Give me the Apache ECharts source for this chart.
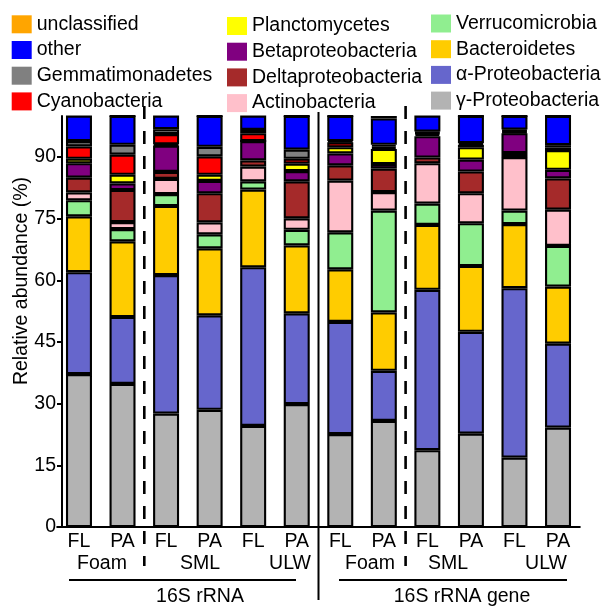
<!DOCTYPE html>
<html lang="en">
<head>
<meta charset="UTF-8">
<title>Relative abundance</title>
<script src="https://cdn.jsdelivr.net/npm/echarts@6/dist/echarts.min.js"></script>
<style>html,body{margin:0;padding:0;background:#fff}</style>
</head>
<body>
<div id="main" style="width:604px;height:606px"></div>
<script>
// sample order: 16S rRNA (Foam, SML, ULW) then 16S rRNA gene (Foam, SML, ULW)
var fractions = ['FL', 'PA', 'FL', 'PA', 'FL', 'PA', 'FL', 'PA', 'FL', 'PA', 'FL', 'PA'];
var yTicks = [0, 15, 30, 45, 60, 75, 90];

// relative abundance (%), one value per bar
var gammaProteo   = [37.2, 34.8, 27.6, 28.5, 24.6, 29.9, 22.6, 25.8, 18.7, 22.7, 16.9, 24.2];
var alphaProteo   = [24.8, 16.3, 33.7, 23.0, 38.6, 22.1, 27.3, 12.2, 39.0, 24.8, 41.2, 20.4];
var bacteroidetes = [13.6, 18.4, 16.8, 16.3, 18.9, 16.5, 12.8, 14.2, 15.8, 16.0, 15.6, 13.9];
var verruco       = [3.9, 3.0, 2.9, 3.4, 2.0, 3.8, 9.0, 24.8, 5.2, 10.4, 3.3, 9.9];
var actino        = [1.9, 1.7, 3.7, 2.9, 3.6, 2.8, 12.6, 4.5, 9.8, 7.3, 13.0, 8.8];
var deltaProteo   = [3.6, 7.8, 1.7, 7.1, 1.5, 9.0, 3.7, 5.7, 1.4, 5.3, 1.0, 7.6];
var betaProteo    = [3.5, 1.6, 6.4, 3.0, 4.7, 2.5, 2.9, 1.1, 5.2, 2.9, 4.8, 2.1];
var plancto       = [1.1, 2.1, 0.3, 1.5, 0, 1.8, 1.5, 3.7, 0.5, 3.0, 0.3, 4.8];
var cyano         = [3.0, 4.9, 2.5, 4.5, 1.9, 1.2, 1.2, 0.5, 0.3, 0.6, 0.3, 0.6];
var gemma         = [1.3, 2.4, 1.2, 2.3, 0.8, 2.2, 0.3, 0.5, 0.3, 0.4, 0.3, 0.6];
var other         = [6.2, 7.0, 3.3, 7.5, 3.5, 8.2, 6.1, 6.4, 3.9, 6.6, 3.3, 7.1];
var unclassified  = [0, 0, 0, 0, 0, 0, 0, 0.6, 0, 0, 0, 0];

// bottom to top
var groups = [
    {name: 'γ-Proteobacteria', data: gammaProteo, color: '#b3b3b3'},
    {name: 'α-Proteobacteria', data: alphaProteo, color: '#6666cc'},
    {name: 'Bacteroidetes', data: bacteroidetes, color: '#ffcc00'},
    {name: 'Verrucomicrobia', data: verruco, color: '#90ee90'},
    {name: 'Actinobacteria', data: actino, color: '#ffc0cb'},
    {name: 'Deltaproteobacteria', data: deltaProteo, color: '#a52a2a'},
    {name: 'Betaproteobacteria', data: betaProteo, color: '#800080'},
    {name: 'Planctomycetes', data: plancto, color: '#ffff00'},
    {name: 'Cyanobacteria', data: cyano, color: '#ff0000'},
    {name: 'Gemmatimonadetes', data: gemma, color: '#808080'},
    {name: 'other', data: other, color: '#0000ff'},
    {name: 'unclassified', data: unclassified, color: '#ffa500'}
];

var FONT = 'Liberation Sans, Arial, sans-serif';

function legendCol(left, top, names) {
    return {
        orient: 'vertical', left: left, top: top, padding: 0,
        icon: 'rect', itemWidth: 20, itemHeight: 18, itemGap: 5.7,
        selectedMode: false,
        itemStyle: {borderWidth: 0},
        textStyle: {fontFamily: FONT, fontSize: 19.5, color: '#000', lineHeight: 18},
        data: names
    };
}

var myChart = echarts.init(document.getElementById('main'));

var option = {
    animation: false,
    legend: [
        legendCol(11.7, 14.3, ['unclassified', 'other', 'Gemmatimonadetes', 'Cyanobacteria']),
        legendCol(227, 16, ['Planctomycetes', 'Betaproteobacteria', 'Deltaproteobacteria', 'Actinobacteria']),
        legendCol(431, 13.5, ['Verrucomicrobia', 'Bacteroidetes', 'α-Proteobacteria', 'γ-Proteobacteria'])
    ],
    grid: {left: 57.2, right: 24.2, top: 116, bottom: 79},
    xAxis: {
        type: 'category',
        data: fractions.map(function (f, i) { return f + i; }),
        axisLine: {lineStyle: {color: '#000', width: 2}},
        axisTick: {show: false},
        axisLabel: {
            interval: 0, margin: 5, color: '#000', fontFamily: FONT, fontSize: 19.5,
            formatter: function (v, i) { return fractions[i]; }
        }
    },
    yAxis: {
        type: 'value', min: 0, max: 100, interval: 15, offset: -4.8,
        splitLine: {show: false},
        axisLine: {show: true, lineStyle: {color: '#000', width: 2}},
        axisTick: {show: true, length: 5, lineStyle: {width: 2}, customValues: yTicks},
        axisLabel: {margin: 6, color: '#000', fontFamily: FONT, fontSize: 19.5, customValues: yTicks}
    },
    series: groups.map(function (g) {
        return {
            name: g.name, type: 'bar', stack: 'all', barWidth: 26,
            data: g.data,
            itemStyle: {color: g.color, borderColor: '#000', borderWidth: 2.1},
            emphasis: {disabled: true}
        };
    })
};
myChart.setOption(option);

// separators between sample groups, placed between category centres
function between(a, b) {
    return (myChart.convertToPixel({xAxisIndex: 0}, a) + myChart.convertToPixel({xAxisIndex: 0}, b)) / 2;
}
function txt(x, y, s, align) {
    return {type: 'text', x: x, y: y, style: {text: s, fill: '#000', font: '19.5px ' + FONT,
        textAlign: align || 'center', textVerticalAlign: 'middle'}};
}
function hline(x1, x2, y) {
    return {type: 'line', shape: {x1: x1, y1: y, x2: x2, y2: y}, style: {stroke: '#000', lineWidth: 2}};
}
function vline(x, y1, y2, dashed) {
    return {type: 'line', shape: {x1: x, y1: y1, x2: x, y2: y2},
        style: {stroke: '#000', lineWidth: dashed ? 2.6 : 2, lineDash: dashed ? [13, 12] : null}};
}

myChart.setOption({
    graphic: [
        vline(between(1, 2), 106, 566, true),
        vline(between(7, 8), 106, 566, true),
        vline(between(5, 6), 112, 600, false),
        txt(102, 564, 'Foam'), txt(200, 564, 'SML'), txt(311, 564, 'ULW', 'right'),
        txt(370, 564, 'Foam'), txt(448, 564, 'SML'), txt(567, 564, 'ULW', 'right'),
        hline(69, 296, 580), hline(339, 567, 580),
        txt(200, 597, '16S rRNA'), txt(462, 597, '16S rRNA gene'),
        {type: 'text', x: 22, y: 281, rotation: Math.PI / 2,
            style: {text: 'Relative abundance (%)', fill: '#000', font: '19.5px ' + FONT,
                textAlign: 'center', textVerticalAlign: 'middle'}}
    ]
});
</script>
</body>
</html>
